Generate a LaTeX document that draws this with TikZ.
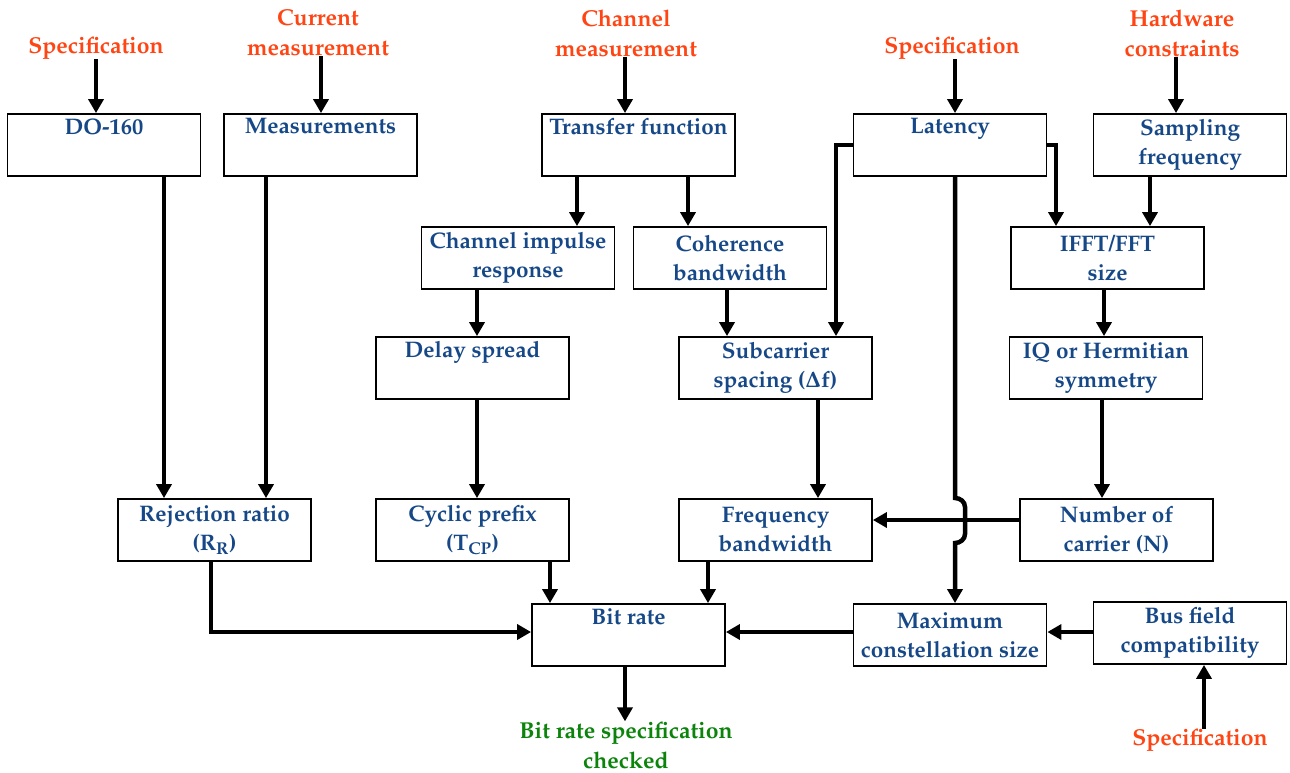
\documentclass[tikz,border=0pt]{standalone}
\usepackage[T1]{fontenc}
\usepackage{mathpazo}
\usetikzlibrary{arrows.meta}

\definecolor{boxblue}{RGB}{22,72,135}
\definecolor{specred}{RGB}{255,69,20}
\definecolor{okgreen}{RGB}{12,132,12}

\tikzset{
  block/.style={draw, line width=1.8pt, minimum width=193pt, minimum height=62pt,
    inner sep=0pt, align=center, text=boxblue,
    font=\fontsize{22.5}{29}\selectfont\bfseries},
  source/.style={inner sep=0pt, align=center, text=specred,
    font=\fontsize{23}{30}\selectfont\bfseries},
  flow/.style={line width=4.5pt, -{Triangle[width=15pt,length=14pt]}},
}

\begin{document}
\begin{tikzpicture}[x=1pt, y=-1pt]
    \useasboundingbox (0,0) rectangle (1290,772);

    % inputs
    \path (96,48) node [source] (sp1) {Specification};
    \path (318,33) node [source] (cm) {Current\\measurement};
    \path (626,33) node [source] (chm) {Channel\\measurement};
    \path (952,48) node [source] (sp2) {Specification};
    \path (1182,33) node [source] (hw) {Hardware\\constraints};
    \path (1200,740) node [source] (sp3) {Specification};
    \path (626,745) node [source, text=okgreen] (chk) {Bit rate specification\\checked};

    % first row
    \path (104,145) node [block] (do) {DO-160\\\strut};
    \path (320.5,145) node [block] (meas) {Measurements\\\strut};
    \path (638.5,145) node [block] (tf) {Transfer function\\\strut};
    \path (950,145) node [block] (lat) {Latency\\\strut};
    \path (1190,145) node [block] (samp) {Sampling\\frequency};

    % second row
    \path (518,258) node [block] (ci) {Channel impulse\\response};
    \path (730,258) node [block] (coh) {Coherence\\bandwidth};
    \path (1107.5,258) node [block] (ifft) {IFFT/FFT\\size};

    % third row
    \path (472.5,368) node [block] (ds) {Delay spread\\\strut};
    \path (775.5,368) node [block] (sub) {Subcarrier\\spacing ($\mathbf{\Delta}$f)};
    \path (1106,368) node [block] (iq) {IQ or Hermitian\\symmetry};

    % fourth row
    \path (214.5,530) node [block] (rr) {Rejection ratio\\(R\textsubscript{R})};
    \path (472.5,530) node [block] (cp) {Cyclic prefix\\(T\textsubscript{CP})};
    \path (775.5,530) node [block] (fb) {Frequency\\bandwidth};
    \path (1116.5,530) node [block] (nc) {Number of\\carrier (N)};

    % last row
    \path (628.5,635) node [block] (br) {Bit rate\\\strut};
    \path (950,635) node [block] (mc) {Maximum\\constellation size};
    \path (1190,633) node [block] (bus) {Bus field\\compatibility};

    % input arrows
    \draw [flow] (sp1.south) -- (sp1.south |- do.north);
    \draw [flow] (321,0 |- cm.south) -- (321,0 |- meas.north);
    \draw [flow] (625,0 |- chm.south) -- (625,0 |- tf.north);
    \draw [flow] (955,0 |- sp2.south) -- (955,0 |- lat.north);
    \draw [flow] (1176,0 |- hw.south) -- (1176,0 |- samp.north);
    \draw [flow] (1204,0 |- sp3.north) -- (1204,0 |- bus.south);

    % links
    \draw [flow] (164,0 |- do.south) -- (164,0 |- rr.north);
    \draw [flow] (266,0 |- meas.south) -- (266,0 |- rr.north);
    \draw [flow] (577,0 |- tf.south) -- (577,0 |- ci.north);
    \draw [flow] (688,0 |- tf.south) -- (688,0 |- coh.north);
    \draw [flow] (477,0 |- ci.south) -- (477,0 |- ds.north);
    \draw [flow] (477,0 |- ds.south) -- (477,0 |- cp.north);
    \draw [flow] (727,0 |- coh.south) -- (727,0 |- sub.north);
    \draw [flow] (lat.west) -| (836,0 |- sub.north);
    \draw [flow] (lat.east) -| (1056,0 |- ifft.north);
    \draw [flow] (1150,0 |- samp.south) -- (1150,0 |- ifft.north);
    \draw [flow] (1104,0 |- ifft.south) -- (1104,0 |- iq.north);
    \draw [flow] (1102,0 |- iq.south) -- (1102,0 |- nc.north);
    \draw [flow] (818,0 |- sub.south) -- (818,0 |- fb.north);
    \draw [flow] (nc.west |- 0,520) -- (fb.east |- 0,520);
    \draw [flow] (955,0 |- lat.south) -- (955,498) to[out=0,in=90] (965,507)
        -- (965,534) to[out=-90,in=0] (955,543) -- (955,0 |- mc.north);
    \draw [flow] (211,0 |- rr.south) |- (br.west |- 0,632);
    \draw [flow] (550,0 |- cp.south) -- (550,0 |- br.north);
    \draw [flow] (708,0 |- fb.south) -- (708,0 |- br.north);
    \draw [flow] (mc.west |- 0,632) -- (br.east |- 0,632);
    \draw [flow] (bus.west |- 0,632) -- (mc.east |- 0,632);
    \draw [flow] (625,0 |- br.south) -- (625,0 |- chk.north);
\end{tikzpicture}
\end{document}
